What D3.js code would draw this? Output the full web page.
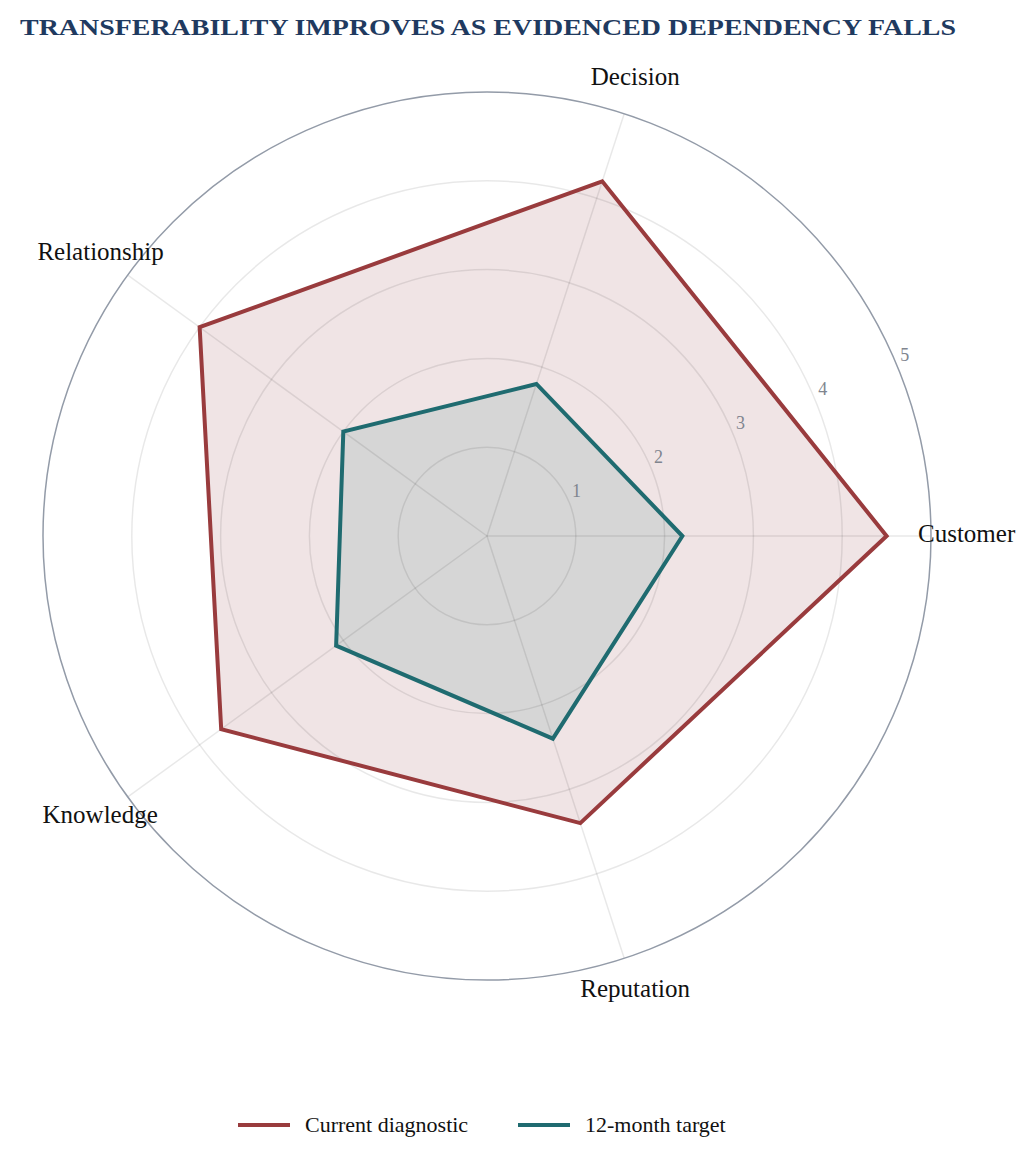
<!DOCTYPE html>
<html><head><meta charset="utf-8">
<script src="https://cdn.jsdelivr.net/npm/d3@7"></script>
<style>body{margin:0;background:#fff;}svg{display:block;font-family:"Liberation Serif","Times New Roman",serif;}</style>
</head><body>
<svg id="c" width="1033" height="1164"></svg>
<script>
const categories = ["Customer","Decision","Relationship","Knowledge","Reputation"];
const currentValues = [4.5, 4.2, 4.0, 3.7, 3.4];
const targetValues = [2.2, 1.8, 2.0, 2.1, 2.4];
const tickValues = [1,2,3,4,5];
const seriesNames = ["Current diagnostic","12-month target"];

const W=1033, H=1164, cx=487, cy=536, R=444;
const svg=d3.select("#c");
const r=d3.scaleLinear().domain([0,5]).range([0,R]);
const ang=d3.scaleLinear().domain([0,categories.length]).range([0,2*Math.PI]);
const pt=(i,v)=>[cx+r(v)*Math.cos(ang(i)), cy-r(v)*Math.sin(ang(i))];

svg.append("text").attr("x",20).attr("y",35).attr("font-size",24).attr("font-weight","bold")
  .attr("fill","#1f3a60").attr("textLength",936).attr("lengthAdjust","spacingAndGlyphs")
  .text("TRANSFERABILITY IMPROVES AS EVIDENCED DEPENDENCY FALLS");

const g=svg.append("g");
const line=d3.line();
g.append("path").attr("d",line(categories.map((c,i)=>pt(i,currentValues[i])))+"Z")
  .attr("fill","rgb(240,228,229)").attr("stroke","none");
g.append("path").attr("d",line(categories.map((c,i)=>pt(i,targetValues[i])))+"Z")
  .attr("fill","rgb(214,214,214)").attr("stroke","none");
tickValues.slice(0,-1).forEach(t=>{
  g.append("circle").attr("cx",cx).attr("cy",cy).attr("r",r(t)).attr("fill","none")
   .attr("stroke","rgba(0,0,0,0.09)").attr("stroke-width",1.5);
});
categories.forEach((c,i)=>{
  const p=pt(i,5);
  g.append("line").attr("x1",cx).attr("y1",cy).attr("x2",p[0]).attr("y2",p[1])
   .attr("stroke","rgba(0,0,0,0.09)").attr("stroke-width",1.5);
});
g.append("circle").attr("cx",cx).attr("cy",cy).attr("r",r(5)).attr("fill","none")
  .attr("stroke","#939ba8").attr("stroke-width",1.5);
g.append("path").attr("d",line(categories.map((c,i)=>pt(i,currentValues[i])))+"Z")
  .attr("fill","none").attr("stroke","#993b3d").attr("stroke-width",4).attr("stroke-linejoin","miter");
g.append("path").attr("d",line(categories.map((c,i)=>pt(i,targetValues[i])))+"Z")
  .attr("fill","none").attr("stroke","#1f6b70").attr("stroke-width",4).attr("stroke-linejoin","miter");
const ta=22.5*Math.PI/180;
tickValues.forEach(t=>{
  g.append("text").attr("x",cx+r(t)*Math.cos(ta)+3).attr("y",cy-r(t)*Math.sin(ta)-5)
   .attr("font-size",18).attr("fill","#80858f").text(t);
});
const labelNudge=[[-13,6,"start"],[11,-29,"middle"],[36,-15,"end"],[30,26,"end"],[11,39,"middle"]];
categories.forEach((c,i)=>{
  const p=pt(i,5), n=labelNudge[i];
  g.append("text").attr("x",p[0]+n[0]).attr("y",p[1]+n[1]).attr("text-anchor",n[2])
   .attr("font-size",25).attr("fill","#111").text(c);
});
const colors=["#993b3d","#1f6b70"];
const lx=[238,518];
seriesNames.forEach((s,i)=>{
  svg.append("line").attr("x1",lx[i]).attr("x2",lx[i]+52).attr("y1",1125).attr("y2",1125)
   .attr("stroke",colors[i]).attr("stroke-width",4);
  svg.append("text").attr("x",lx[i]+67).attr("y",1132).attr("font-size",22).attr("fill","#111").text(s);
});
</script>
</body></html>
